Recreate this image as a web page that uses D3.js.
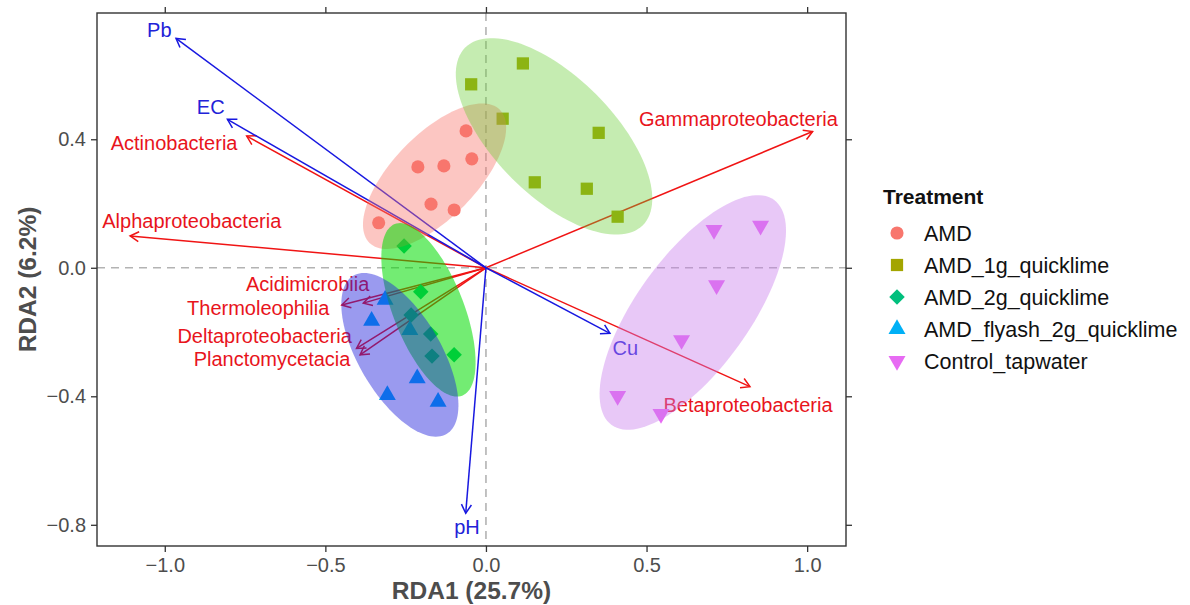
<!DOCTYPE html>
<html>
<head>
<meta charset="utf-8">
<script src="https://cdn.jsdelivr.net/npm/d3@7.9.0/dist/d3.min.js"></script>
<style>
  body { margin: 0; background: #fff; }
  text { font-family: "Liberation Sans", Arial, sans-serif; }
</style>
</head>
<body>
<script>
// ─── DATA ────────────────────────────────────────────────────────────────
const treatments = ['AMD', 'AMD_1g_quicklime', 'AMD_2g_quicklime', 'AMD_flyash_2g_quicklime', 'Control_tapwater'];

// sample scores [RDA1, RDA2]
const samplesAMD     = [[-0.062,0.426],[-0.044,0.339],[-0.212,0.314],[-0.131,0.317],[-0.171,0.198],[-0.099,0.180],[-0.334,0.140]];
const samples1g      = [[0.115,0.636],[-0.046,0.571],[0.052,0.464],[0.351,0.420],[0.152,0.266],[0.314,0.246],[0.410,0.159]];
const samples2g      = [[-0.255,0.068],[-0.203,-0.075],[-0.233,-0.147],[-0.172,-0.206],[-0.168,-0.275],[-0.099,-0.271]];
const samplesFlyash  = [[-0.314,-0.100],[-0.356,-0.165],[-0.237,-0.194],[-0.214,-0.344],[-0.307,-0.396],[-0.149,-0.417]];
const samplesControl = [[0.710,0.118],[0.855,0.131],[0.718,-0.054],[0.609,-0.225],[0.410,-0.399],[0.545,-0.455]];

// ellipse per group: [centre x, centre y, semi-major, semi-minor, angle deg]
const ellipses = [
  [-0.160, 0.285, 0.290, 0.130, 45.7],
  [ 0.212, 0.409, 0.391, 0.185, -45.0],
  [-0.179,-0.131, 0.287, 0.110, -68.5],
  [-0.268,-0.271, 0.286, 0.128, -59.5],
  [ 0.644,-0.139, 0.432, 0.176, 54.2]
];

// species arrows: name, tip x, tip y, label x, label y
const species = [
  ['Actinobacteria',      -0.745, 0.410, -0.971, 0.388],
  ['Alphaproteobacteria', -1.108, 0.099, -0.916, 0.146],
  ['Gammaproteobacteria',  1.017, 0.424,  0.786, 0.463],
  ['Betaproteobacteria',   0.822,-0.370,  0.816,-0.426],
  ['Acidimicrobiia',      -0.382,-0.110, -0.555,-0.051],
  ['Thermoleophilia',     -0.449,-0.116, -0.709,-0.125],
  ['Deltaproteobacteria', -0.403,-0.251, -0.689,-0.213],
  ['Planctomycetacia',    -0.392,-0.271, -0.666,-0.284]
];

// environmental arrows: name, tip x, tip y, label x, label y
const envVars = [
  ['Pb', -0.965, 0.714, -1.017, 0.741],
  ['EC', -0.805, 0.462, -0.857, 0.500],
  ['Cu',  0.386,-0.204,  0.434,-0.248],
  ['pH', -0.063,-0.764, -0.059,-0.807]
];

const xTicks = [-1.0, -0.5, 0.0, 0.5, 1.0];
const yTicks = [-0.8, -0.4, 0.0, 0.4];

// ─── STYLES ──────────────────────────────────────────────────────────────
const pointColors   = ['#F8766D', '#A3A500', '#00BF7D', '#00B0F6', '#E76BF3'];
const ellipseColors = ['#F8766D', '#66CC33', '#00DD00', '#1E1EDC', '#C77CEB'];
const ellipseAlpha  = [0.42, 0.38, 0.55, 0.45, 0.42];
const symbols = [
  { type: d3.symbolCircle,   size: 135, rot: 0 },
  { type: d3.symbolSquare,   size: 150, rot: 0 },
  { type: d3.symbolSquare,   size: 120, rot: 45 },
  { type: d3.symbolTriangle, size: 125, rot: 0 },
  { type: d3.symbolTriangle, size: 125, rot: 180 }
];
const groups = [samplesAMD, samples1g, samples2g, samplesFlyash, samplesControl];

const W = 1190, H = 605;
const P = { left: 97, right: 846, top: 13, bottom: 546 };

const svg = d3.select('body').append('svg')
  .attr('width', W).attr('height', H);

const x = d3.scaleLinear().domain([-1.211, 1.121]).range([P.left, P.right]);
const y = d3.scaleLinear().domain([-0.866, 0.793]).range([P.bottom, P.top]);

// reference lines
svg.append('line')
  .attr('x1', x(0)).attr('x2', x(0)).attr('y1', P.top).attr('y2', P.bottom)
  .attr('stroke', '#b3b3b3').attr('stroke-width', 1.6).attr('stroke-dasharray', '8 6');
svg.append('line')
  .attr('y1', y(0)).attr('y2', y(0)).attr('x1', P.left).attr('x2', P.right)
  .attr('stroke', '#b3b3b3').attr('stroke-width', 1.6).attr('stroke-dasharray', '8 6');

// arrows
function arrow(g, tx, ty, color) {
  const x0 = x(0), y0 = y(0), x1 = x(tx), y1 = y(ty);
  g.append('line')
    .attr('x1', x0).attr('y1', y0).attr('x2', x1).attr('y2', y1)
    .attr('stroke', color).attr('stroke-width', 1.5);
  const ang = Math.atan2(y1 - y0, x1 - x0), len = 10, spread = Math.PI / 6;
  const head = [
    [x1 - len * Math.cos(ang - spread), y1 - len * Math.sin(ang - spread)],
    [x1, y1],
    [x1 - len * Math.cos(ang + spread), y1 - len * Math.sin(ang + spread)]
  ];
  g.append('path')
    .attr('d', d3.line()(head))
    .attr('fill', 'none').attr('stroke', color).attr('stroke-width', 1.5);
}

const arrowG = svg.append('g');
species.forEach(d => arrow(arrowG, d[1], d[2], '#F01414'));
envVars.forEach(d => arrow(arrowG, d[1], d[2], '#1818E0'));

const labelG = svg.append('g').attr('font-size', 20).attr('text-anchor', 'middle');
species.forEach(d => labelG.append('text')
  .attr('x', x(d[3])).attr('y', y(d[4])).attr('dy', '0.36em')
  .attr('fill', '#E8141C').text(d[0]));
envVars.forEach(d => labelG.append('text')
  .attr('x', x(d[3])).attr('y', y(d[4])).attr('dy', '0.36em')
  .attr('fill', '#2222D8').text(d[0]));

// points
const pointG = svg.append('g');
groups.forEach((pts, i) => {
  const s = symbols[i];
  pointG.selectAll(null).data(pts).join('path')
    .attr('d', d3.symbol().type(s.type).size(s.size))
    .attr('transform', d => `translate(${x(d[0])},${y(d[1])}) rotate(${s.rot})`)
    .attr('fill', pointColors[i]);
});

// ellipses (drawn over points, like the reference)
const ellG = svg.append('g');
ellipses.forEach((e, i) => {
  const [cx, cy, a, b, deg] = e;
  const t = deg * Math.PI / 180;
  const outline = d3.range(0, 361, 3).map(k => {
    const u = k * Math.PI / 180;
    const ex = a * Math.cos(u), ey = b * Math.sin(u);
    return [cx + ex * Math.cos(t) - ey * Math.sin(t), cy + ex * Math.sin(t) + ey * Math.cos(t)];
  });
  ellG.append('path')
    .attr('d', d3.line().x(p => x(p[0])).y(p => y(p[1]))(outline) + 'Z')
    .attr('fill', ellipseColors[i]).attr('fill-opacity', ellipseAlpha[i])
    .attr('stroke', 'none');
});

// panel border
svg.append('rect')
  .attr('x', P.left).attr('y', P.top)
  .attr('width', P.right - P.left).attr('height', P.bottom - P.top)
  .attr('fill', 'none').attr('stroke', '#333').attr('stroke-width', 1.4);

// axes (bottom/left labelled, top/right ticks only)
const axisStyle = g => {
  g.select('.domain').remove();
  g.selectAll('.tick line').attr('stroke', '#333').attr('stroke-width', 1.3);
  g.selectAll('.tick text').attr('fill', '#4D4D4D').attr('font-size', 20)
    .attr('font-family', '"Liberation Sans", Arial, sans-serif');
};
svg.append('g').attr('transform', `translate(0,${P.bottom})`)
  .call(d3.axisBottom(x).tickValues(xTicks).tickFormat(d3.format('.1f')).tickSize(6).tickPadding(6))
  .call(axisStyle)
  .selectAll('.tick text').text(d => d3.format('.1f')(d).replace('-', '\u2212'));
svg.append('g').attr('transform', `translate(0,${P.top})`)
  .call(d3.axisTop(x).tickValues(xTicks).tickFormat('').tickSize(6))
  .call(axisStyle);
svg.append('g').attr('transform', `translate(${P.left},0)`)
  .call(d3.axisLeft(y).tickValues(yTicks).tickSize(6).tickPadding(5))
  .call(axisStyle)
  .selectAll('.tick text').text(d => d3.format('.1f')(d).replace('-', '\u2212'));
svg.append('g').attr('transform', `translate(${P.right},0)`)
  .call(d3.axisRight(y).tickValues(yTicks).tickFormat('').tickSize(6))
  .call(axisStyle);

// axis titles
svg.append('text')
  .attr('x', (P.left + P.right) / 2).attr('y', 599)
  .attr('text-anchor', 'middle').attr('font-size', 24.5).attr('font-weight', 'bold')
  .attr('fill', '#4D4D4D').text('RDA1 (25.7%)');
svg.append('text')
  .attr('transform', `translate(36,${(P.top + P.bottom) / 2}) rotate(-90)`)
  .attr('text-anchor', 'middle').attr('font-size', 24.5).attr('font-weight', 'bold')
  .attr('fill', '#4D4D4D').text('RDA2 (6.2%)');

// legend
const legend = svg.append('g').attr('transform', 'translate(883,0)');
legend.append('text')
  .attr('x', 0).attr('y', 204)
  .attr('font-size', 21).attr('font-weight', 'bold').attr('fill', '#111')
  .text('Treatment');
treatments.forEach((name, i) => {
  const row = legend.append('g').attr('transform', `translate(0,${233 + i * 32})`);
  const s = symbols[i];
  row.append('path')
    .attr('d', d3.symbol().type(s.type).size(s.size))
    .attr('transform', `translate(14,0) rotate(${s.rot})`)
    .attr('fill', pointColors[i]);
  row.append('text')
    .attr('x', 41).attr('dy', '0.36em')
    .attr('font-size', 21.5).attr('fill', '#111')
    .text(name);
});
</script>
</body>
</html>
